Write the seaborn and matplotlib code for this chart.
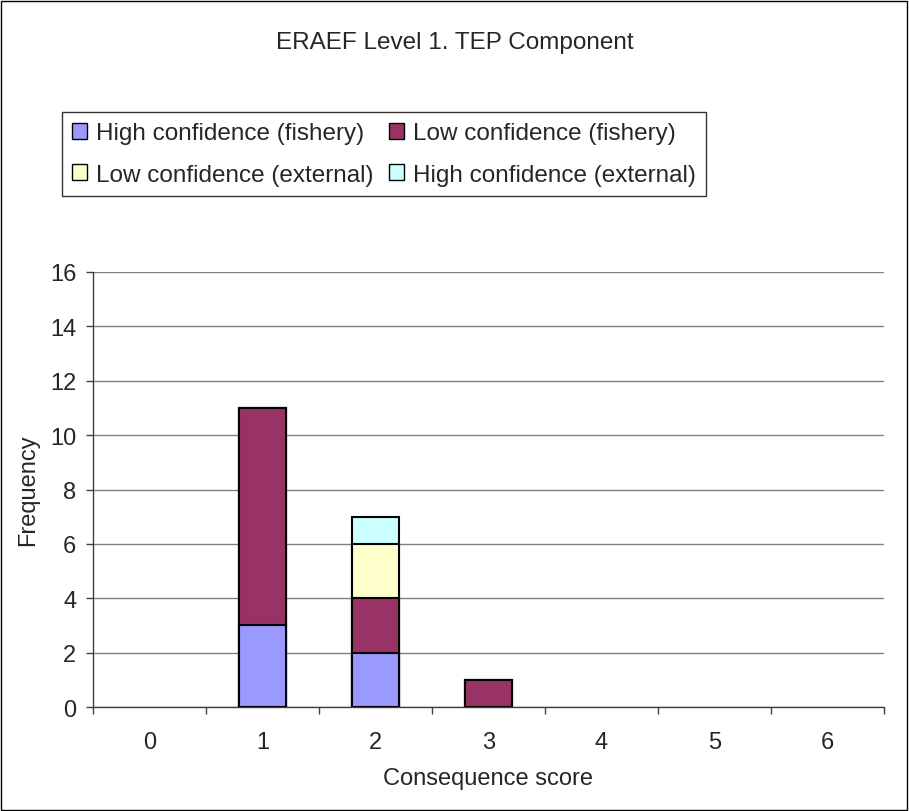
import matplotlib
matplotlib.use("Agg")
import matplotlib.pyplot as plt
import seaborn as sns
import pandas as pd
from matplotlib.patches import Patch, Rectangle

# chart data
scores = ["0", "1", "2", "3", "4", "5", "6"]
high_fishery = [0, 3, 2, 0, 0, 0, 0]
low_fishery = [0, 8, 2, 1, 0, 0, 0]
low_external = [0, 0, 2, 0, 0, 0, 0]
high_external = [0, 0, 1, 0, 0, 0, 0]
y_ticks = [0, 2, 4, 6, 8, 10, 12, 14, 16]

series = [
    ("High confidence (fishery)", high_fishery, "#9999FF"),
    ("Low confidence (fishery)", low_fishery, "#993366"),
    ("Low confidence (external)", low_external, "#FFFFCC"),
    ("High confidence (external)", high_external, "#CCFFFF"),
]

FS = 17
FS_BIG = 17.5

sns.set_style("white")
plt.rcParams["font.family"] = ["Liberation Sans", "DejaVu Sans"]

fig = plt.figure(figsize=(9.09, 8.12), dpi=100)
ax = fig.add_axes([0.1023, 0.128, 0.8702, 0.5358])

# cumulative stacking: draw the tallest stack first, then overlay lower layers
cum = [0] * len(scores)
stacks = []
for name, vals, color in series:
    cum = [c + v for c, v in zip(cum, vals)]
    stacks.append((name, list(cum), color))

for name, totals, color in reversed(stacks):
    df = pd.DataFrame({"score": scores, "value": totals})
    df = df[df["value"] > 0]
    sns.barplot(data=df, x="score", y="value", order=scores, color=color,
                width=0.41, edgecolor="black", linewidth=1.5, saturation=1,
                ax=ax, zorder=3)

ax.set_xlim(-0.5, 6.5)
ax.set_ylim(0, 16)
ax.set_yticks(y_ticks)
ax.yaxis.grid(True, color="#808080", linewidth=1)
ax.set_axisbelow(True)

for side in ["top", "right"]:
    ax.spines[side].set_visible(False)
for side in ["left", "bottom"]:
    ax.spines[side].set_color("#404040")
    ax.spines[side].set_linewidth(1)

ax.set_xticks(range(len(scores)))
ax.set_xticklabels(scores)
ax.set_xticks([i - 0.5 for i in range(len(scores) + 1)], minor=True)
ax.tick_params(axis="x", which="major", length=0, pad=17, labelsize=FS)
ax.tick_params(axis="x", which="minor", length=5, width=1, color="#404040",
               direction="out", bottom=True)
ax.tick_params(axis="y", length=5, width=1, color="#404040", direction="out",
               left=True, pad=7, labelsize=FS)

ax.set_xlabel("Consequence score", fontsize=FS, labelpad=10)
ax.set_ylabel("Frequency", fontsize=FS)
ax.yaxis.set_label_coords(-0.068, 0.5)

fig.text(0.5, 1 - 43 / 812, "ERAEF Level 1. TEP Component", ha="center",
         va="center", fontsize=FS_BIG)

handles = [Patch(facecolor=c, edgecolor="black", linewidth=1) for _, _, c in series]
labels = [n for n, _, _ in series]
order = [0, 2, 1, 3]
leg = fig.legend([handles[i] for i in order], [labels[i] for i in order],
                 ncol=2, loc="upper left", bbox_to_anchor=(62 / 909, 1 - 113 / 812),
                 borderaxespad=0, fontsize=FS_BIG, frameon=True, fancybox=False,
                 edgecolor="black", handlelength=0.62, handleheight=0.62,
                 handletextpad=0.37, columnspacing=0.62, borderpad=0.42,
                 labelspacing=0.8)
leg.get_frame().set_linewidth(1)

fig.patches.append(Rectangle((0.001, 0.001), 0.997, 0.997, transform=fig.transFigure,
                             fill=False, edgecolor="black", linewidth=1))

fig.savefig("out.png", dpi=100)
